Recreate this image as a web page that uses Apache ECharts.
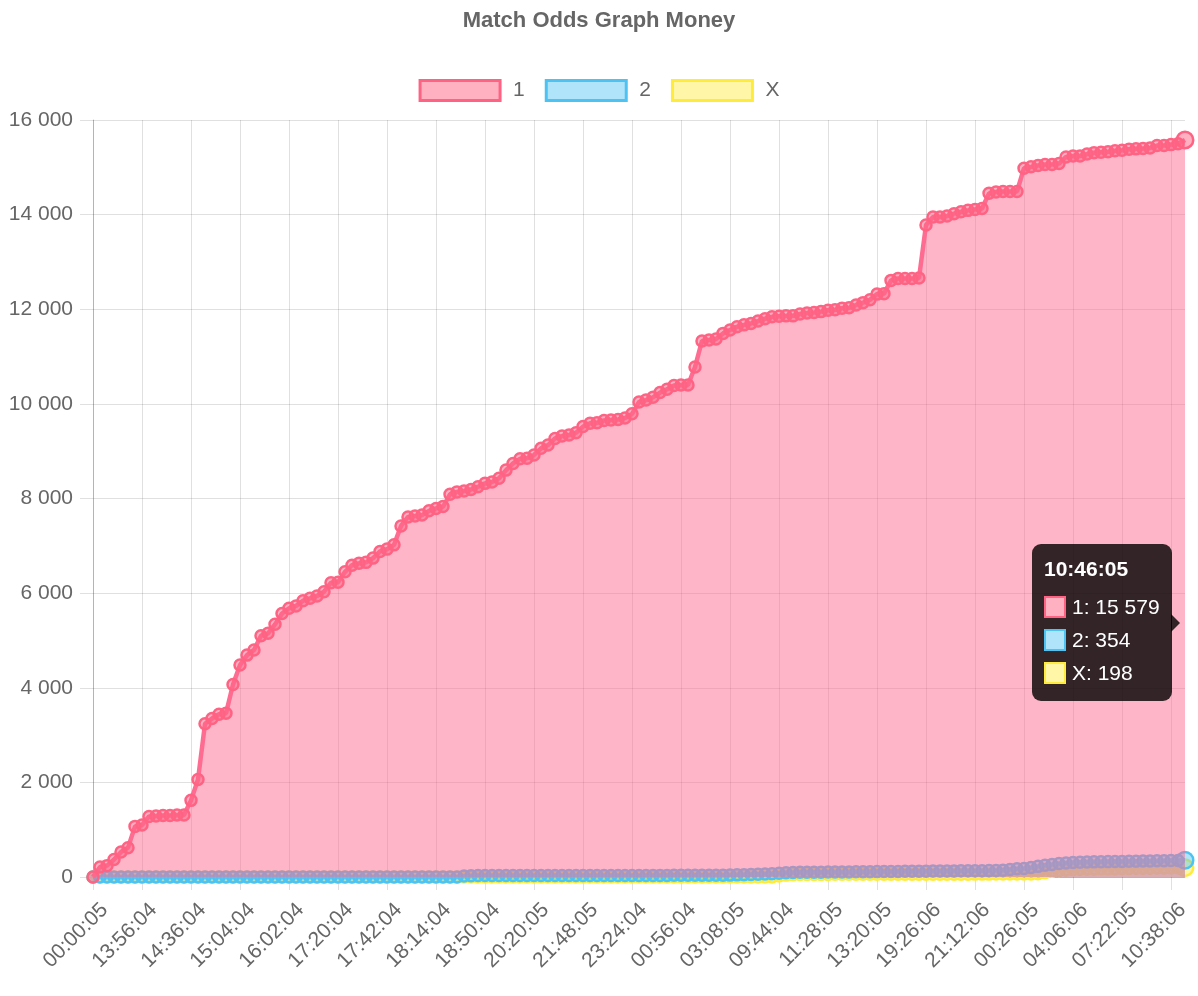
<!DOCTYPE html>
<html>
<head>
<meta charset="utf-8">
<title>Match Odds Graph Money</title>
<script src="https://cdn.jsdelivr.net/npm/echarts@6/dist/echarts.min.js"></script>
<style>
  html, body { margin: 0; padding: 0; background: #fff; }
  #chart { width: 1198px; height: 996px; }
</style>
</head>
<body>
<div id="chart"></div>
<script>
// x 轴只显示每 7 个点一个标签；最后一个点的时间来自 tooltip
const tickLabels = ["00:00:05", "13:56:04", "14:36:04", "15:04:04", "16:02:04", "17:20:04", "17:42:04",
  "18:14:04", "18:50:04", "20:20:05", "21:48:05", "23:24:04", "00:56:04", "03:08:05", "09:44:04",
  "11:28:05", "13:20:05", "19:26:06", "21:12:06", "00:26:05", "04:06:06", "07:22:05", "10:38:06"];
const lastLabel = "10:46:05";
const tickStep = 7;

const money1 = [
  0, 210, 240, 370, 530, 620, 1070, 1100, 1280, 1290,
  1300, 1300, 1310, 1310, 1620, 2060, 3240, 3350, 3440, 3460,
  4070, 4480, 4690, 4800, 5100, 5150, 5340, 5570, 5680, 5730,
  5840, 5890, 5940, 6030, 6220, 6230, 6450, 6590, 6630, 6650,
  6740, 6880, 6930, 7020, 7420, 7610, 7630, 7650, 7740, 7790,
  7830, 8090, 8140, 8160, 8190, 8250, 8320, 8350, 8430, 8600,
  8740, 8840, 8850, 8920, 9060, 9130, 9270, 9320, 9340, 9390,
  9520, 9590, 9600, 9650, 9660, 9670, 9700, 9790, 10040, 10080,
  10140, 10240, 10310, 10390, 10400, 10400, 10780, 11330, 11350, 11370,
  11490, 11560, 11630, 11670, 11700, 11750, 11800, 11840, 11850, 11860,
  11860, 11900, 11920, 11930, 11950, 11980, 11990, 12020, 12030, 12090,
  12140, 12200, 12320, 12330, 12610, 12650, 12650, 12650, 12660, 13780,
  13950, 13950, 13970, 14020, 14060, 14090, 14110, 14130, 14450, 14480,
  14490, 14490, 14490, 14980, 15010, 15040, 15060, 15060, 15080, 15220,
  15240, 15240, 15280, 15310, 15320, 15330, 15350, 15360, 15380, 15390,
  15400, 15410, 15460, 15460, 15480, 15500, 15579
];
const money2 = [
  0, 0, 0, 0, 0, 0, 0, 0, 0, 0,
  0, 0, 0, 0, 0, 0, 0, 0, 0, 0,
  0, 0, 0, 0, 0, 0, 0, 0, 0, 0,
  0, 0, 0, 0, 0, 0, 0, 0, 0, 0,
  0, 0, 0, 0, 0, 0, 0, 0, 0, 0,
  0, 0, 0, 20, 25, 30, 30, 30, 30, 30,
  30, 30, 30, 30, 30, 30, 30, 30, 30, 30,
  30, 30, 30, 32, 32, 32, 32, 33, 33, 33,
  34, 34, 34, 35, 35, 35, 35, 36, 36, 38,
  38, 40, 45, 50, 55, 60, 65, 70, 80, 90,
  95, 100, 100, 100, 102, 104, 105, 106, 108, 110,
  111, 112, 114, 115, 116, 118, 120, 121, 122, 124,
  125, 126, 128, 129, 130, 131, 133, 134, 135, 140,
  145, 160, 175, 180, 200, 225, 250, 265, 285, 295,
  305, 310, 315, 320, 322, 325, 328, 330, 332, 335,
  338, 340, 342, 345, 348, 350, 354
];
const moneyX = [
  0, 0, 0, 0, 0, 0, 0, 0, 0, 0,
  0, 0, 0, 0, 0, 0, 0, 0, 0, 0,
  0, 0, 0, 0, 0, 0, 0, 0, 0, 0,
  0, 0, 0, 0, 0, 0, 0, 0, 0, 0,
  0, 0, 0, 0, 0, 0, 0, 0, 0, 0,
  0, 0, 0, 0, 0, 0, 0, 0, 0, 0,
  0, 0, 0, 0, 0, 0, 0, 0, 0, 0,
  0, 0, 0, 0, 0, 0, 0, 0, 0, 0,
  0, 0, 0, 0, 0, 0, 0, 0, 0, 0,
  0, 0, 0, 0, 0, 0, 0, 0, 20, 40,
  50, 52, 54, 55, 55, 55, 56, 56, 56, 57,
  57, 57, 58, 58, 58, 58, 59, 59, 59, 60,
  60, 60, 60, 60, 60, 60, 61, 61, 61, 62,
  62, 62, 63, 63, 64, 70, 90, 120, 140, 150,
  160, 165, 168, 170, 172, 175, 177, 179, 181, 183,
  185, 187, 189, 191, 193, 195, 198
];

const FONT = '"Helvetica Neue", Helvetica, Arial, "Liberation Sans", sans-serif';
const TEXT = "#666";
const GRID = "rgba(0,0,0,0.12)";
const COLORS = {
  "1": { line: "#ff6384", fill: "rgba(255,99,132,0.5)" },
  "2": { line: "#4dc3f3", fill: "rgba(77,195,243,0.45)" },
  "X": { line: "#ffeb3c", fill: "rgba(255,235,60,0.45)" },
};

const last = money1.length - 1;
const categories = money1.map((_, i) => i % tickStep === 0 ? tickLabels[i / tickStep] : "");
categories[last] = lastLabel;

const fmt = (v) => String(v).replace(/\B(?=(\d{3})+(?!\d))/g, " ");

function lineSeries(name, data, z) {
  const c = COLORS[name];
  const item = { color: c.fill, borderColor: c.line, borderWidth: 2.5 };
  return {
    name, type: "line", data, z,
    symbol: "circle", symbolSize: 11, showAllSymbol: true,
    lineStyle: { color: c.line, width: 4.5 },
    itemStyle: item,
    areaStyle: { color: c.fill, opacity: 1, origin: "start" },
    emphasis: { scale: 1.5, lineStyle: { width: 4.5 }, areaStyle: { opacity: 1 }, itemStyle: item },
  };
}

const chart = echarts.init(document.getElementById("chart"));
chart.setOption({
  animation: false,
  textStyle: { fontFamily: FONT },
  title: {
    text: "Match Odds Graph Money", left: "center", top: 10, padding: 0,
    textStyle: { fontFamily: FONT, fontSize: 22, fontWeight: "bold", color: TEXT },
  },
  legend: {
    top: 79, left: "center", padding: 0, itemGap: 20, itemWidth: 80, itemHeight: 20, icon: "rect",
    textStyle: { fontFamily: FONT, fontSize: 21, color: TEXT, padding: [0, 0, 0, 8] },
    data: ["1", "2", "X"].map(n => ({
      name: n, itemStyle: { color: COLORS[n].fill, borderColor: COLORS[n].line, borderWidth: 3 },
    })),
  },
  grid: { left: 93, right: 13, top: 120, bottom: 119, containLabel: false },
  tooltip: {
    trigger: "axis", triggerOn: "none", alwaysShowContent: true,
    axisPointer: { type: "none" },
    backgroundColor: "rgba(0,0,0,0.8)", borderWidth: 0, padding: [12, 12],
    extraCssText: "box-shadow:none;border-radius:9px;",
    textStyle: { fontFamily: FONT, fontSize: 21, color: "#fff" },
    position: (pt, params, dom, rect, size) => {
      const avg = (money1[last] + money2[last] + moneyX[last]) / 3;
      const [x, y] = chart.convertToPixel({ gridIndex: 0 }, [last, avg]);
      return [x - 13 - size.contentSize[0], y - size.contentSize[1] / 2];
    },
    formatter: (params) => {
      const rows = params.map(p => {
        const c = COLORS[p.seriesName];
        return `<div style="display:flex;align-items:center;height:33px;line-height:33px">` +
          `<span style="display:inline-block;box-sizing:border-box;width:22px;height:22px;margin-right:6px;` +
          `border:2px solid ${c.line};background-color:#fff;box-shadow:inset 0 0 0 20px ${c.fill}"></span>` +
          `${p.seriesName}: ${fmt(p.value)}</div>`;
      }).join("");
      return `<div style="position:relative;font-family:${FONT}">` +
        `<div style="font-weight:bold;line-height:26px;margin-bottom:8px">${params[0].axisValue}</div>${rows}` +
        `<span style="position:absolute;right:-20px;top:50%;margin-top:-9px;width:0;height:0;` +
        `border-top:9px solid transparent;border-bottom:9px solid transparent;border-left:9px solid rgba(0,0,0,0.8)"></span></div>`;
    },
  },
  xAxis: {
    type: "category", data: categories, boundaryGap: false,
    axisLine: { lineStyle: { color: "rgba(0,0,0,0.2)", width: 1 } },
    axisTick: { interval: tickStep - 1, length: 13, lineStyle: { color: GRID } },
    axisLabel: {
      interval: tickStep - 1, rotate: 45, margin: 18, color: TEXT, fontSize: 21, fontFamily: FONT,
      verticalAlign: "top", padding: [6, 0, 0, 0],
    },
    splitLine: { show: true, interval: tickStep - 1, lineStyle: { color: GRID } },
  },
  yAxis: {
    type: "value", min: 0, max: 16000, interval: 2000,
    axisLine: { show: true, lineStyle: { color: "rgba(0,0,0,0.2)", width: 1 } },
    axisTick: { show: true, length: 13, lineStyle: { color: GRID } },
    axisLabel: { margin: 20, color: TEXT, fontSize: 21, fontFamily: FONT, formatter: fmt },
    splitLine: { lineStyle: { color: GRID } },
  },
  series: [
    lineSeries("1", money1, 4),
    lineSeries("2", money2, 3),
    lineSeries("X", moneyX, 2),
  ],
});
chart.dispatchAction({ type: "showTip", seriesIndex: 0, dataIndex: last });
</script>
</body>
</html>
